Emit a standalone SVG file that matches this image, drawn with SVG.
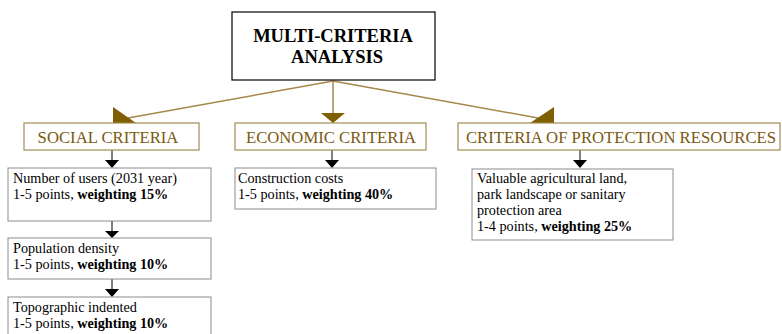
<svg xmlns="http://www.w3.org/2000/svg" width="782" height="334" viewBox="0 0 782 334">
<style>
.hdr{font-family:"Liberation Serif",serif;font-weight:bold;font-size:18.5px;fill:#000;text-anchor:middle}
.crit{font-family:"Liberation Serif",serif;font-size:16.7px;fill:#7a5a10;text-anchor:middle}
.body{font-family:"Liberation Serif",serif;font-size:14.2px;fill:#000}
.b{font-weight:bold}
.cbox{fill:#fff;stroke:#a08c55;stroke-width:1.2}
.nbox{fill:#fff;stroke:#8c8c8c;stroke-width:1}
.bl{stroke:#a5884a;stroke-width:1.5;fill:none}
.kl{stroke:#000;stroke-width:1;fill:none}
.th{fill:#7f5f00}
.ah{fill:#000}
</style>
<rect width="782" height="334" fill="#fff"/>
<g id="connectors">
<line class="bl" x1="333" y1="81" x2="128" y2="118"/>
<line class="bl" x1="333" y1="81" x2="333" y2="114"/>
<line class="bl" x1="333" y1="81" x2="538" y2="118"/>
<polygon class="th" points="113,107 113,123 136,123"/>
<polygon class="th" points="321,113 345,113 333,123"/>
<polygon class="th" points="554,107 554,123 530,123"/>
<line class="kl" x1="112" y1="150" x2="112" y2="161"/>
<polygon class="ah" points="105,160 119,160 112,168"/>
<line class="kl" x1="332" y1="150" x2="332" y2="161"/>
<polygon class="ah" points="325,160 339,160 332,168"/>
<line class="kl" x1="580" y1="150" x2="580" y2="161"/>
<polygon class="ah" points="573,160 587,160 580,168"/>
<line class="kl" x1="112" y1="221" x2="112" y2="232"/>
<polygon class="ah" points="105,231 119,231 112,238"/>
<line class="kl" x1="112" y1="279" x2="112" y2="290"/>
<polygon class="ah" points="105,289 119,289 112,297"/>
</g>
<g id="main">
<rect x="232" y="12" width="203" height="68" fill="#fff" stroke="#000" stroke-width="1.2"/>
<text class="hdr" x="333" y="42">MULTI-CRITERIA</text>
<text class="hdr" x="337" y="63">ANALYSIS</text>
</g>
<g id="social">
<rect class="cbox" x="24" y="123" width="175" height="27"/>
<text class="crit" x="108" y="143">SOCIAL CRITERIA</text>
</g>
<g id="economic">
<rect class="cbox" x="235" y="123" width="191" height="27"/>
<text class="crit" x="331" y="143">ECONOMIC CRITERIA</text>
</g>
<g id="protection">
<rect class="cbox" x="458" y="123" width="322" height="27"/>
<text class="crit" x="621" y="143">CRITERIA OF PROTECTION RESOURCES</text>
</g>
<g id="users">
<rect class="nbox" x="8" y="168" width="203" height="53"/>
<text class="body" x="13" y="183">Number of users (2031 year)</text>
<text class="body" x="13" y="199">1-5 points, <tspan class="b">weighting 15%</tspan></text>
</g>
<g id="density">
<rect class="nbox" x="8" y="238" width="203" height="41"/>
<text class="body" x="13" y="253">Population density</text>
<text class="body" x="13" y="269">1-5 points, <tspan class="b">weighting 10%</tspan></text>
</g>
<g id="topographic">
<rect class="nbox" x="8" y="297" width="203" height="45"/>
<text class="body" x="13" y="312">Topographic indented</text>
<text class="body" x="13" y="328">1-5 points, <tspan class="b">weighting 10%</tspan></text>
</g>
<g id="costs">
<rect class="nbox" x="235" y="168" width="201" height="41"/>
<text class="body" x="238" y="183">Construction costs</text>
<text class="body" x="238" y="199">1-5 points, <tspan class="b">weighting 40%</tspan></text>
</g>
<g id="land">
<rect class="nbox" x="472" y="169" width="201" height="71"/>
<text class="body" x="477" y="183">Valuable agricultural land,</text>
<text class="body" x="477" y="199">park landscape or sanitary</text>
<text class="body" x="477" y="215">protection area</text>
<text class="body" x="477" y="231">1-4 points, <tspan class="b">weighting 25%</tspan></text>
</g>
</svg>
